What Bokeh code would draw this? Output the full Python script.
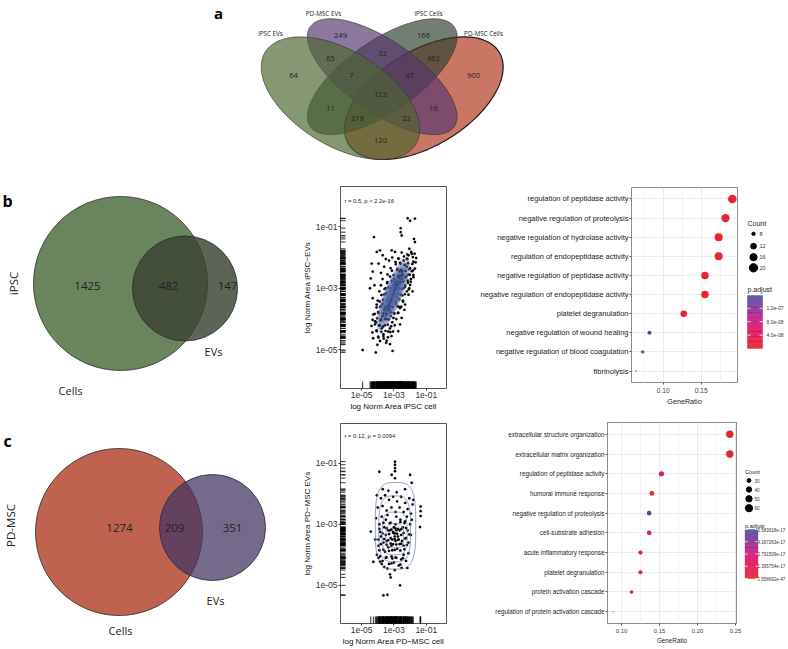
import numpy as np
from bokeh.plotting import figure
from bokeh.layouts import column, row
from bokeh.models import Range1d, FixedTicker, CustomJSTickFormatter, LinearColorMapper, PrintfTickFormatter, ColumnDataSource
from bokeh.core.properties import value
from bokeh.embed import file_html
from bokeh.resources import INLINE

# ---------------- data ----------------
venn4_sets = ["iPSC EVs", "PD-MSC EVs", "iPSC Cells", "PD-MSC Cells"]
venn4_counts = [64, 249, 166, 900, 65, 32, 462, 7, 47, 123, 11, 16, 218, 22, 120]

ipsc_sets = ["Cells", "EVs"]
ipsc_counts = [1425, 482, 147]      # cells only, shared, EVs only
pdmsc_sets = ["Cells", "EVs"]
pdmsc_counts = [1274, 209, 351]

scatter_ticks = [1e-5, 1e-3, 1e-1]

ipsc_logx = [-2.15, -2.0, -1.70, -2.58, -2.58, -2.52, -4.23, -1.76, -1.70, -2.05,
             -2.10, -1.90, -2.20, -4.06, -3.86, -3.69, -3.14, -2.93, -2.73, -1.80,
             -4.37, -4.31, -4.43, -4.48, -4.06, -4.31, -4.27, -4.17, -4.06, -3.86,
             -3.65, -4.93, -4.12, -3.08, -3.24,
             -2.73, -2.62, -2.52, -2.31, -2.10, -2.00, -1.80, -1.70,
             -3.50, -3.30, -3.10, -2.90, -2.60, -2.40, -2.20, -2.00, -1.90, -2.50,
             -2.80, -3.20, -3.60, -3.80, -3.40, -2.70, -2.30, -2.10, -3.95, -3.00,
             -3.90, -3.80, -3.70, -3.60, -3.50, -3.40, -3.30, -3.20, -3.10, -3.00,
             -2.90, -2.80, -2.70, -2.60, -2.50, -3.70, -3.60, -3.50, -3.40, -3.30,
             -3.20, -3.10, -3.00, -2.90, -2.80, -2.70, -2.60, -2.40, -2.30, -2.20,
             -3.95, -3.85, -3.75, -3.55, -3.45, -3.35, -3.25, -3.15, -3.05, -2.95,
             -2.85, -2.75, -3.65, -3.45, -3.95, -4.10, -4.00, -3.90, -3.80, -3.70,
             -2.45, -2.35, -2.55, -2.65, -2.45, -2.15, -2.05, -1.95, -1.85, -4.20,
             -2.52, -2.18, -1.93, -1.72,
             -2.71, -2.38, -2.17, -1.83, -1.62,
             -2.88, -2.62, -2.33, -2.12, -1.86, -1.66,
             -3.12, -2.78, -2.57, -2.28, -2.06, -1.81,
             -3.24, -3.02, -2.73, -2.52, -2.23, -2.02, -1.79,
             -3.42, -3.13, -2.92, -2.63, -2.42, -2.13, -1.96,
             -3.58, -3.32, -3.03, -2.82, -2.53, -2.32, -2.08,
             -3.77, -3.48, -3.22, -2.93, -2.77, -2.48, -2.32,
             -3.88, -3.67, -3.38, -3.17, -2.88, -2.67, -2.43,
             -4.07, -3.78, -3.57, -3.28, -3.07, -2.78, -2.62,
             -4.18, -3.97, -3.68, -3.47, -3.18, -2.97, -2.73,
             -4.32, -4.03, -3.82, -3.53, -3.32, -3.03,
             -4.38, -4.17, -3.88, -3.67, -3.38, -3.17,
             -4.33, -4.07, -3.78, -3.52, -3.22,
             -4.28, -3.97, -3.63, -3.37,
             -4.02, -3.48]
ipsc_logy = [-0.73, -0.81, -0.74, -1.05, -1.18, -1.29, -1.34, -1.40, -1.50, -1.72,
             -1.93, -1.88, -2.04, -1.82, -1.77, -1.93, -1.77, -1.82, -2.04, -2.14,
             -2.20, -2.46, -2.68, -3.00, -3.53, -3.32, -3.85, -4.07, -4.39, -4.71,
             -4.49, -5.00, -5.08, -5.03, -4.81,
             -4.39, -4.17, -3.96, -3.53, -3.21, -2.89, -2.57, -2.36,
             -2.05, -2.10, -2.00, -2.15, -2.20, -2.10, -2.30, -2.35, -2.45, -2.45,
             -2.40, -2.35, -2.30, -2.50, -2.55, -2.60, -2.65, -2.55, -2.20, -2.70,
             -4.20, -4.00, -3.90, -3.70, -3.60, -3.40, -3.30, -3.10, -3.00, -2.90,
             -2.80, -2.90, -3.00, -2.80, -2.70, -3.50, -3.20, -3.00, -2.80, -3.70,
             -3.90, -4.10, -3.80, -3.50, -3.30, -3.60, -3.20, -3.00, -2.90, -3.10,
             -3.80, -3.60, -4.30, -4.20, -4.00, -4.40, -4.30, -4.55, -4.40, -4.20,
             -4.00, -3.80, -4.55, -4.70, -4.60, -4.10, -3.40, -3.10, -2.90, -2.70,
             -3.40, -3.70, -3.60, -2.45, -2.55, -2.75, -3.00, -2.70, -3.10, -2.90,
             -1.84, -1.90, -1.82, -1.88,
             -2.03, -1.97, -2.05, -1.99, -2.02,
             -2.22, -2.17, -2.24, -2.19, -2.21, -2.16,
             -2.43, -2.37, -2.41, -2.44, -2.38, -2.42,
             -2.62, -2.57, -2.63, -2.59, -2.61, -2.56, -2.64,
             -2.83, -2.77, -2.81, -2.84, -2.78, -2.82, -2.79,
             -3.02, -2.97, -3.04, -2.99, -3.01, -2.96, -3.03,
             -3.22, -3.17, -3.21, -3.24, -3.18, -3.23, -3.19,
             -3.43, -3.37, -3.41, -3.38, -3.42, -3.36, -3.44,
             -3.62, -3.57, -3.63, -3.59, -3.61, -3.58, -3.64,
             -3.83, -3.77, -3.81, -3.84, -3.78, -3.82, -3.79,
             -4.02, -3.97, -4.04, -3.99, -4.01, -3.96,
             -4.22, -4.17, -4.21, -4.24, -4.18, -4.23,
             -4.43, -4.37, -4.41, -4.38, -4.42,
             -4.62, -4.57, -4.63, -4.59,
             -4.83, -4.77]
ipsc_note = "r = 0.5, p < 2.2e-16"

pd_logx = [-2.93, -2.93, -2.93, -2.93, -3.14, -2.93, -3.90, -2.00, -1.90, -3.69,
           -3.34, -2.83, -2.31, -1.35, -1.35, -1.35, -1.39, -4.43, -4.27, -3.24,
           -3.20, -2.62, -3.65, -3.40, -2.52, -2.17, -3.86,
           -4.05, -3.80, -3.55, -3.30, -3.05, -2.80, -2.55, -2.30, -2.05, -1.85,
           -4.00, -3.70, -3.45, -3.15, -2.90, -2.65, -2.40, -2.15, -1.95, -1.80,
           -4.10, -3.90, -3.75, -3.60, -3.50, -3.35, -3.20, -3.05, -2.90, -2.75,
           -2.60, -2.45, -2.30, -2.15, -2.00, -1.90, -3.85, -3.40, -2.85, -2.20,
           -4.15, -3.95, -3.80, -3.65, -3.50, -3.35, -3.20, -3.05, -2.95, -2.80,
           -2.70, -2.55, -2.40, -2.25, -2.10, -1.95, -3.55, -3.10, -2.65, -2.90,
           -4.05, -3.85, -3.70, -3.50, -3.30, -3.15, -3.00, -2.85, -2.70, -2.55,
           -2.40, -2.25, -3.40, -2.95, -3.60, -2.10,
           -3.00, -2.95, -2.85, -2.75, -3.10, -3.25, -2.65, -3.15, -2.50, -3.45,
           -3.65, -3.25, -2.60, -2.35,
           -3.90, -3.45, -3.15, -2.90, -2.55, -2.25,
           -3.70, -3.30, -3.05, -2.80, -2.40, -2.05,
           -3.95, -3.60, -3.35, -2.95, -2.75, -2.30,
           -3.80, -3.45, -3.20, -2.85, -2.55, -2.20,
           -3.90, -3.65, -3.30, -2.95, -2.60, -2.35,
           -3.95, -3.45, -3.10, -2.90, -2.45,
           -3.75, -3.15, -2.60]
pd_logy = [-0.95, -1.05, -1.16, -1.26, -1.38, -1.49, -1.28, -1.38, -1.64, -1.85,
           -1.90, -1.95, -1.85, -2.42, -2.57, -2.73, -3.09, -3.24, -4.23, -4.64,
           -4.74, -5.00, -5.33, -5.31, -4.43, -4.43, -4.23,
           -2.05, -2.15, -2.05, -2.20, -2.10, -2.25, -2.10, -2.30, -2.15, -2.35,
           -2.45, -2.40, -2.55, -2.45, -2.60, -2.45, -2.60, -2.50, -2.65, -2.20,
           -2.80, -3.00, -2.75, -3.10, -2.85, -3.20, -2.95, -3.25, -3.00, -3.15,
           -2.85, -3.10, -2.90, -3.20, -3.00, -2.85, -3.25, -2.70, -2.75, -2.75,
           -3.50, -3.70, -3.40, -3.60, -3.35, -3.75, -3.45, -3.65, -3.40, -3.80,
           -3.50, -3.35, -3.70, -3.45, -3.60, -3.35, -3.90, -3.85, -3.65, -3.55,
           -4.00, -4.05, -4.20, -4.10, -4.30, -4.05, -4.25, -4.10, -4.35, -4.15,
           -4.00, -4.20, -4.45, -4.50, -4.40, -3.95,
           -3.10, -3.30, -3.20, -3.40, -3.50, -3.20, -3.20, -3.70, -3.55, -3.55,
           -2.95, -2.97, -2.93, -2.96,
           -3.15, -3.13, -3.17, -3.14, -3.16, -3.12,
           -3.30, -3.32, -3.28, -3.31, -3.29, -3.33,
           -3.50, -3.48, -3.52, -3.49, -3.51, -3.47,
           -3.65, -3.67, -3.63, -3.66, -3.64, -3.68,
           -3.85, -3.83, -3.87, -3.84, -3.86, -3.82,
           -4.10, -4.08, -4.12, -4.09, -4.11,
           -4.30, -4.28, -4.32]
pd_note = "r = 0.12, p = 0.0094"

go_b_terms = ["regulation of peptidase activity", "negative regulation of proteolysis",
              "negative regulation of hydrolase activity", "regulation of endopeptidase activity",
              "negative regulation of peptidase activity", "negative regulation of endopeptidase activity",
              "platelet degranulation", "negative regulation of wound healing",
              "negative regulation of blood coagulation", "fibrinolysis"]
go_b_ratio = [0.191, 0.182, 0.173, 0.173, 0.155, 0.155, 0.127, 0.082, 0.073, 0.064]
go_b_count = [21, 20, 19, 19, 17, 17, 14, 9, 8, 7]
go_b_padj = [3e-10, 5e-10, 8e-10, 8e-10, 2e-09, 2e-09, 5e-09, 1.45e-07, 1.58e-07, 4.5e-08]
go_b_count_breaks = [8, 12, 16, 20]
go_b_padj_breaks = [4e-08, 8e-08, 1.2e-07]
go_b_padj_labels = ["4.0e-08", "8.0e-08", "1.2e-07"]

go_c_terms = ["extracellular structure organization", "extracellular matrix organization",
              "regulation of peptidase activity", "humoral immune response",
              "negative regulation of proteolysis", "cell-substrate adhesion",
              "acute inflammatory response", "platelet degranulation",
              "protein activation cascade", "regulation of protein activation cascade"]
go_c_ratio = [0.2425, 0.2425, 0.1526, 0.1400, 0.1364, 0.1364, 0.1250, 0.1250, 0.1132, 0.0890]
go_c_count = [62, 62, 39, 36, 35, 35, 32, 32, 29, 23]
go_c_padj = [1.558692e-47, 3e-46, 8e-18, 2e-18, 5.583018e-17, 6e-18, 1e-18, 5e-18, 4e-18, 1.2e-17]
go_c_count_breaks = [30, 40, 50, 60]
go_c_padj_breaks = [1.558692e-47, 1.395754e-17, 2.791509e-17, 4.187263e-17, 5.583018e-17]
go_c_padj_labels = ["1.558692e-47", "1.395754e-17", "2.791509e-17", "4.187263e-17", "5.583018e-17"]

# ---------------- layout / style constants ----------------
VF = "Open Sans"
PF = "Liberation Sans"
W_TOT, W_VENN, W_SC, W_DOT, W_LEG = 787, 290, 170, 283, 44
Y_A, H_A = 0, 176
Y_B, H_B = 176, 237
Y_C, H_C = 413, 235
X_LEG = W_VENN + W_SC + W_DOT

GRAD_STOPS = [(0.0, (228, 38, 46)), (0.3, (226, 20, 92)), (0.55, (200, 26, 128)),
              (0.8, (128, 54, 152)), (1.0, (80, 78, 168))]


def grad(t):
    for (t0, c0), (t1, c1) in zip(GRAD_STOPS[:-1], GRAD_STOPS[1:]):
        if t <= t1 + 1e-12:
            f = (t - t0) / (t1 - t0)
            c = [int(round(a + (b - a) * f)) for a, b in zip(c0, c1)]
            return "#%02x%02x%02x" % tuple(c)
    return "#%02x%02x%02x" % GRAD_STOPS[-1][1]


PALETTE = [grad(i / 255) for i in range(256)]


def blank(x0, y0, w, h):
    p = figure(width=w, height=h, x_range=Range1d(x0, x0 + w), y_range=Range1d(y0 + h, y0),
               output_backend="svg", toolbar_location=None,
               x_axis_location=None, y_axis_location=None, min_border=0, frame_align=False)
    p.outline_line_color = None
    p.grid.grid_line_color = None
    return p


def txt(p, xs, ys, texts, size, font=VF, align="center", baseline="middle",
        color="#222222", style="normal", angle=0.0):
    p.text(x=xs, y=ys, text=texts, text_font=value(font), text_font_size=value(size),
           text_align=align, text_baseline=baseline, text_color=color,
           text_font_style=style, angle=angle)


def dot_size(counts, lo, hi, dmax):
    c = np.asarray(counts, dtype=float)
    t = np.clip((c - lo) / (hi - lo), 0, 1)
    return list((1 + 5 * np.sqrt(t)) * dmax / 6.0)


# ---------------- panel a: 4-set Venn ----------------
V4_CX, V4_CY, V4_SX, V4_SY = 381.7, 97.7, 278.0, 215.0
V4_ELL = [(0.35, 0.47, 0.35, 0.20, -45), (0.50, 0.57, 0.35, 0.15, -45),
          (0.50, 0.57, 0.35, 0.15, 45), (0.65, 0.47, 0.35, 0.20, 45)]
V4_FILL = ["#4C6530", "#58376F", "#304130", "#B0371B"]
V4_LINE = ["#3a3a3a", "#3a3a3a", "#3a3a3a", "#1a1a1a"]
V4_LW = [0.7, 0.7, 0.7, 1.2]
V4_NAME_POS = [(270, 33), (323, 13), (428, 13), (483, 33)]
V4_NUM_POS = [(293, 75), (340, 35), (423, 35), (473, 75), (330, 58), (382, 53), (433, 58),
              (351, 75), (409, 75), (380, 94), (330, 108), (433, 108), (357, 118), (406, 118),
              (380, 140)]


def ellipse_poly(u, v, a, b, ang_deg, n=180):
    t = np.linspace(0, 2 * np.pi, n)
    th = np.radians(ang_deg)
    eu = u + a * np.cos(t) * np.cos(th) - b * np.sin(t) * np.sin(th)
    ev = v + a * np.cos(t) * np.sin(th) + b * np.sin(t) * np.cos(th)
    return V4_CX + (eu - 0.5) * V4_SX, V4_CY - (ev - 0.47) * V4_SY


fa = blank(0, Y_A, W_TOT, H_A)
for i in [3, 2, 1, 0]:
    ex, ey = ellipse_poly(*V4_ELL[i])
    fa.patch(ex, ey, fill_color=V4_FILL[i], fill_alpha=0.68, line_color=V4_LINE[i], line_width=V4_LW[i])
txt(fa, [q[0] for q in V4_NAME_POS], [q[1] for q in V4_NAME_POS], venn4_sets, "6.3px")
txt(fa, [q[0] for q in V4_NUM_POS], [q[1] for q in V4_NUM_POS], [str(c) for c in venn4_counts], "7.5px")
txt(fa, [218], [12], ["a"], "15px", style="bold", baseline="alphabetic", color="#000000")


# ---------------- 2-set Venns ----------------
def venn2(y0, h, counts, sets, big, small, big_col, small_col, small_alpha, num_pos, set_pos,
          side_label, side_pos, letter, letter_pos):
    p = blank(0, y0, W_VENN, h)
    p.circle(x=[big[0]], y=[big[1]], radius=[big[2]], fill_color=big_col, fill_alpha=1.0,
             line_color="#2b2b2b", line_width=0.8)
    p.circle(x=[small[0]], y=[small[1]], radius=[small[2]], fill_color=small_col,
             fill_alpha=small_alpha, line_color="#2b2b2b", line_width=0.8)
    txt(p, [q[0] for q in num_pos], [q[1] for q in num_pos], [str(c) for c in counts], "11.5px")
    txt(p, [q[0] for q in set_pos], [q[1] for q in set_pos], sets, "11px")
    txt(p, [side_pos[0]], [side_pos[1]], [side_label], "11.5px", angle=np.pi / 2)
    txt(p, [letter_pos[0]], [letter_pos[1]], [letter], "16px", align="left",
        baseline="alphabetic", style="bold", color="#000000")
    return p


b1 = venn2(Y_B, H_B, ipsc_counts, ipsc_sets, (120, 283, 87), (184.5, 288, 52.5),
           "#6A855D", "#3B4432", 0.83, [(87, 285), (168, 285), (227, 285)],
           [(70, 390), (213, 351)], "iPSC", (13, 283), "b", (2, 200))
c1 = venn2(Y_C, H_C, pdmsc_counts, pdmsc_sets, (118.5, 531.5, 83.5), (212, 527, 53),
           "#C06250", "#473766", 0.75, [(119, 527), (174, 527), (232, 527)],
           [(120, 630), (215, 600)], "PD-MSC", (10, 525), "c", (3, 440))

# ---------------- scatter panels ----------------
SC_XLIM = (-6.3, 0.25)
SC_YLIM = (-6.25, 0.3)
LOG_FMT = CustomJSTickFormatter(code="""
const e = Math.round(Math.log10(tick));
const a = Math.abs(e);
return '1e' + (e < 0 ? '-' : '+') + (a < 10 ? '0' : '') + a;
""")

CONT_B = dict(center=(-3.05, -3.2), a=1.45, b=0.45, ang=50.0,
              levels=[1.0, 0.88, 0.77, 0.67, 0.58, 0.5, 0.42, 0.35, 0.28, 0.22, 0.16, 0.1])
CONT_C = [((-2.9, -3.05), (1.25, 1.42)), ((-2.95, -3.15), (0.98, 1.08)),
          ((-2.95, -3.3), (0.77, 0.70)), ((-2.95, -3.38), (0.55, 0.40))]


def scatter_panel(top, h, bottom, lx, ly, xlabel, ylabel, note, note_logy, contour_kind):
    frame_w = 106
    p = figure(width=W_SC, height=h, x_axis_type="log", y_axis_type="log",
               x_range=Range1d(10 ** SC_XLIM[0], 10 ** SC_XLIM[1]),
               y_range=Range1d(10 ** SC_YLIM[0], 10 ** SC_YLIM[1]),
               output_backend="svg", toolbar_location=None, frame_align=False,
               min_border_left=50, min_border_right=W_SC - 50 - frame_w,
               min_border_top=top, min_border_bottom=bottom)
    p.grid.grid_line_color = None
    p.outline_line_color = "#555555"
    p.outline_line_width = 1
    for ax in (p.xaxis, p.yaxis):
        ax.ticker = FixedTicker(ticks=scatter_ticks)
        ax.formatter = LOG_FMT
        ax.axis_line_color = None
        ax.major_tick_line_color = "#333333"
        ax.major_tick_out = 2
        ax.major_tick_in = 0
        ax.minor_tick_line_color = None
        ax.major_label_text_font = PF
        ax.major_label_text_font_size = "8.5px"
        ax.major_label_text_color = "#333333"
        ax.major_label_standoff = 1
        ax.axis_label_text_font = PF
        ax.axis_label_text_font_size = "8px"
        ax.axis_label_text_font_style = "normal"
        ax.axis_label_text_color = "#111111"
        ax.axis_label_standoff = 1
    p.xaxis.axis_label = xlabel
    p.yaxis.axis_label = ylabel
    xs = [10 ** v for v in lx]
    ys = [10 ** v for v in ly]
    # rugs
    p.scatter(x=[10 ** SC_XLIM[0]] * len(ys), y=ys, marker="dash", size=10,
              line_color="#000000", line_width=0.8)
    p.scatter(x=xs, y=[10 ** SC_YLIM[0]] * len(xs), marker="dash", angle=np.pi / 2, size=14,
              line_color="#000000", line_width=0.8)
    p.scatter(x=xs, y=ys, size=2.4, fill_color="#000000", line_color="#000000", line_width=0.3)
    t = np.linspace(0, 2 * np.pi, 120)
    cxs, cys = [], []
    if contour_kind == "b":
        (cx, cy) = CONT_B["center"]
        th = np.radians(CONT_B["ang"])
        for s in CONT_B["levels"]:
            ex = cx + s * (CONT_B["a"] * np.cos(t) * np.cos(th) - CONT_B["b"] * np.sin(t) * np.sin(th))
            ey = cy + s * (CONT_B["a"] * np.cos(t) * np.sin(th) + CONT_B["b"] * np.sin(t) * np.cos(th))
            cxs.append(list(10 ** ex))
            cys.append(list(10 ** ey))
        p.patches(xs=cxs, ys=cys, fill_color="#263A78", fill_alpha=0.27, line_color="#7485C2",
                  line_width=0.6, line_alpha=0.9)
    else:
        for (cx, cy), (ax_, ay_) in CONT_C:
            ct, st = np.cos(t), np.sin(t)
            ex = cx + ax_ * np.sign(ct) * np.abs(ct) ** 0.6
            ey = cy + ay_ * np.sign(st) * np.abs(st) ** 0.6
            cxs.append(list(10 ** ex))
            cys.append(list(10 ** ey))
        p.multi_line(xs=cxs, ys=cys, line_color="#6C78B8", line_width=0.8, line_alpha=0.9)
    p.text(x=[10 ** -6.05], y=[10 ** note_logy], text=[note], text_font=value(PF),
           text_font_size=value("5.8px"), text_align="left", text_baseline="middle",
           text_color="#222222")
    return p


b2 = scatter_panel(10, H_B, 22, ipsc_logx, ipsc_logy, "log Norm Area iPSC cell",
                   "log Norm Area iPSC\u2212EVs", ipsc_note, -0.17, "b")
c2 = scatter_panel(10, H_C, 22, pd_logx, pd_logy, "log Norm Area PD\u2212MSC cell",
                   "log Norm Area PD\u2212MSC EVs", pd_note, -0.12, "c")


# ---------------- GO dot plots ----------------
def dot_panel(h, top, bottom, left, frame_w, terms, ratio, counts, padj, xlim, xticks, xminor,
              dmax, fs_lab, fs_tick, fs_title):
    n = len(terms)
    ypos = list(range(n, 0, -1))
    p = figure(width=W_DOT, height=h, x_range=Range1d(*xlim), y_range=Range1d(0.4, n + 0.6),
               output_backend="svg", toolbar_location=None, frame_align=False,
               min_border_left=left, min_border_right=W_DOT - left - frame_w,
               min_border_top=top, min_border_bottom=bottom)
    p.outline_line_color = "#8C8C8C"
    p.outline_line_width = 1
    p.xaxis.ticker = FixedTicker(ticks=xticks, minor_ticks=xminor)
    p.xaxis.formatter = PrintfTickFormatter(format="%.2f")
    p.yaxis.ticker = FixedTicker(ticks=ypos)
    p.yaxis.major_label_overrides = {y: t for y, t in zip(ypos, terms)}
    p.xgrid.grid_line_color = "#EBEBEB"
    p.xgrid.minor_grid_line_color = "#F4F4F4"
    p.ygrid.grid_line_color = "#EBEBEB"
    for ax in (p.xaxis, p.yaxis):
        ax.axis_line_color = None
        ax.major_tick_line_color = "#555555"
        ax.major_tick_out = 2
        ax.major_tick_in = 0
        ax.minor_tick_line_color = None
        ax.major_label_text_font = PF
        ax.major_label_standoff = 1
        ax.axis_label_text_font = PF
        ax.axis_label_text_font_style = "normal"
        ax.axis_label_text_color = "#222222"
        ax.axis_label_standoff = 1
    p.yaxis.major_label_text_font_size = fs_lab
    p.yaxis.major_label_text_color = "#1a1a1a"
    p.xaxis.major_label_text_font_size = fs_tick
    p.xaxis.major_label_text_color = "#444444"
    p.xaxis.axis_label = "GeneRatio"
    p.xaxis.axis_label_text_font_size = fs_title
    mapper = LinearColorMapper(palette=PALETTE, low=min(padj), high=max(padj))
    src = ColumnDataSource(dict(x=ratio, y=ypos, s=dot_size(counts, min(counts), max(counts), dmax),
                                padj=padj))
    p.scatter("x", "y", size="s", source=src, fill_color={"field": "padj", "transform": mapper},
              line_color=None)
    return p


b3 = dot_panel(H_B, 11, 31, 171, 106, go_b_terms, go_b_ratio, go_b_count, go_b_padj,
               (0.0583, 0.1978), [0.10, 0.15], [0.075, 0.125, 0.175], 8.6, "7.5px", "6.7px", "7.2px")
c3 = dot_panel(H_C, 9, 25, 147, 129, go_c_terms, go_c_ratio, go_c_count, go_c_padj,
               (0.0816, 0.2513), [0.10, 0.15, 0.20, 0.25], [0.125, 0.175, 0.225], 7.4, "6.3px", "5.9px", "6.3px")


# ---------------- legends ----------------
def legend_panel(y0, h, counts, breaks, dmax, title_y, circ_x, circ_y, lab_x, fs_title, fs_lab,
                 fs_bar, padj, pbreaks, plabels, pt_y, bar_x, bar_y, plab_x):
    p = blank(X_LEG, y0, W_LEG, h)
    txt(p, [bar_x[0]], [title_y], ["Count"], fs_title, font=PF, align="left")
    p.scatter(x=[circ_x] * len(breaks), y=circ_y,
              size=dot_size(breaks, min(counts), max(counts), dmax), color="#000000")
    txt(p, [lab_x] * len(breaks), circ_y, [str(b) for b in breaks], fs_lab, font=PF, align="left",
        color="#333333")
    txt(p, [bar_x[0]], [pt_y], ["p.adjust"], fs_title, font=PF, align="left")
    nseg = 64
    bottom, top = bar_y
    edges = np.linspace(bottom, top, nseg + 1)
    cols = [PALETTE[int(round(i / (nseg - 1) * 255))] for i in range(nseg)]
    p.quad(left=[bar_x[0]] * nseg, right=[bar_x[1]] * nseg, bottom=list(edges[:-1]),
           top=list(edges[1:]), fill_color=cols, line_color=cols, line_width=0.3)
    lo, hi = min(padj), max(padj)
    ly = [bottom + (v - lo) / (hi - lo) * (top - bottom) for v in pbreaks]
    wdt = (bar_x[1] - bar_x[0]) / 5
    p.segment(x0=[bar_x[0]] * len(ly), x1=[bar_x[0] + wdt] * len(ly), y0=ly, y1=ly,
              line_color="white", line_width=0.8)
    p.segment(x0=[bar_x[1] - wdt] * len(ly), x1=[bar_x[1]] * len(ly), y0=ly, y1=ly,
              line_color="white", line_width=0.8)
    txt(p, [plab_x] * len(ly), ly, plabels, fs_bar, font=PF, align="left", color="#333333")
    return p


b4 = legend_panel(Y_B, H_B, go_b_count, go_b_count_breaks, 8.6, 223, 753, [233.3, 245.7, 256.7, 267.3],
                  759, "7px", "5.5px", "5px", go_b_padj, go_b_padj_breaks, go_b_padj_labels, 289,
                  (747, 762), (348, 295), 766)
c4 = legend_panel(Y_C, H_C, go_c_count, go_c_count_breaks, 7.4, 471, 748.5, [480, 489, 498.3, 507.7],
                  754, "5.6px", "4.6px", "4.5px", go_c_padj, go_c_padj_breaks, go_c_padj_labels, 525,
                  (744.5, 757.5), (578, 529), 757)

layout = column(fa, row(b1, b2, b3, b4), row(c1, c2, c3, c4))
open("out.html", "w").write(file_html(layout, INLINE))
